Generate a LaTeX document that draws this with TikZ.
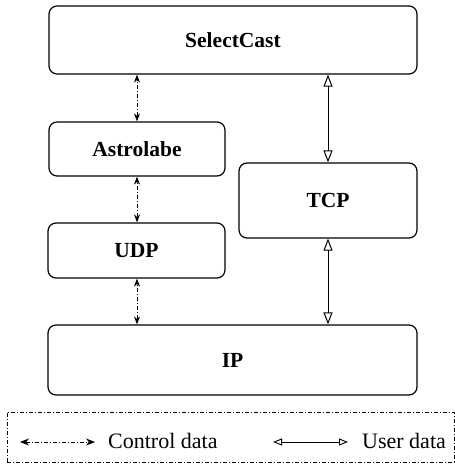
\documentclass[tikz,border=0pt]{standalone}
\usepackage{fontspec}
\setmainfont{Liberation Serif}
\usetikzlibrary{arrows.meta}
\begin{document}
\begin{tikzpicture}[x=1pt,y=-1pt,
  layer/.style={draw,line width=1.2pt,rounded corners=8pt},
  lbl/.style={font=\fontsize{21.5}{25}\selectfont\bfseries},
  ctrl/.style={line width=1pt,dash pattern=on 4pt off 2pt on 1pt off 2pt,{Stealth[length=8pt,width=6pt]}-{Stealth[length=8pt,width=6pt]}},
  usr/.style={line width=1pt,{Triangle[open,length=12pt,width=9pt]}-{Triangle[open,length=12pt,width=9pt]}}]
\useasboundingbox (0,0) rectangle (455,464);
\node[layer,minimum width=368pt,minimum height=68pt,lbl] (sc) at (233,40) {SelectCast};
\node[layer,minimum width=176pt,minimum height=54pt,lbl] (astro) at (137,149) {Astrolabe};
\node[layer,minimum width=177pt,minimum height=55pt,lbl] (udp) at (136.5,250.5) {UDP};
\node[layer,minimum width=178pt,minimum height=75pt,lbl] (tcp) at (328,200.5) {TCP};
\node[layer,minimum width=369pt,minimum height=70pt,lbl] (ip) at (232.5,360) {IP};
\draw[ctrl] (astro.north) -- (astro.north |- sc.south);
\draw[ctrl] (udp.north -| astro.north) -- (astro.south);
\draw[ctrl] (ip.north -| astro.north) -- (udp.south -| astro.north);
\draw[usr] (tcp.north) -- (tcp.north |- sc.south);
\draw[usr] (tcp.south) -- (tcp.south |- ip.north);
\node[draw,line width=1pt,dash pattern=on 4pt off 2pt on 1pt off 2pt,minimum width=447pt,minimum height=50pt] (leg) at (230.5,437) {};
\coordinate (c1) at (20,442);
\coordinate (c2) at (95,442);
\coordinate (u1) at (273,442);
\coordinate (u2) at (348,442);
\draw[line width=0.9pt,dash pattern=on 4pt off 2pt on 1pt off 2pt,{Stealth[length=9pt,width=7pt]}-{Stealth[length=9pt,width=7pt]}] (c1) -- (c2);
\draw[line width=0.9pt,{Triangle[open,length=9pt,width=7pt]}-{Triangle[open,length=9pt,width=7pt]}] (u1) -- (u2);
\node[anchor=west,font=\fontsize{22}{26}\selectfont,inner sep=0pt] (ct) at (108,441) {Control data};
\node[anchor=west,font=\fontsize{22}{26}\selectfont,inner sep=0pt] (ut) at (362,441) {User data};
\end{tikzpicture}
\end{document}
